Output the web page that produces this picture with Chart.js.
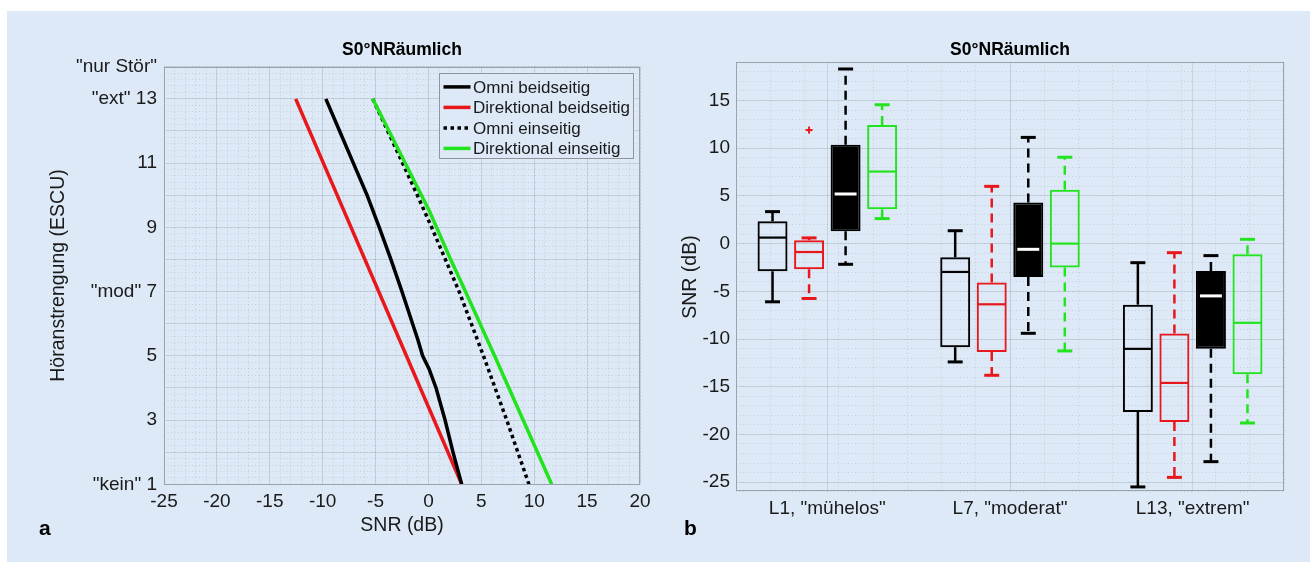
<!DOCTYPE html>
<html><head><meta charset="utf-8">
<script src="https://cdn.jsdelivr.net/npm/chart.js@4.4.0/dist/chart.umd.min.js"></script>
<style>
html,body{margin:0;padding:0;background:#fff;width:1310px;height:562px;overflow:hidden;}
#panel{position:absolute;left:7px;top:11px;width:1303px;height:551px;background:#dde9f6;}
.cw{position:absolute;top:0;height:562px;}
#w1{left:0;width:660px;} #w2{left:660px;width:650px;}
.lab{position:absolute;font:bold 21px "Liberation Sans",Arial,sans-serif;color:#000;line-height:normal;}
</style></head><body>
<div id="panel"></div>
<div class="cw" id="w1"><canvas id="c1" width="660" height="562"></canvas></div>
<div class="cw" id="w2"><canvas id="c2" width="650" height="562"></canvas></div>
<div class="lab" style="left:39px;top:516px">a</div>
<div class="lab" style="left:684px;top:516px">b</div>
<script>
// ================= DATA: panel a =================
const titleText = 'S0°NRäumlich';
const escuLabelValues = [1, 3, 5, 7, 9, 11, 13, 14];
const escuLabelTexts  = ['"kein" 1', '3', '5', '"mod" 7', '9', '11', '"ext" 13', '"nur Stör"'];

const omniBeidESCU = [13, 12, 11, 10, 9, 8, 7, 6, 5.5, 5, 4.6, 4, 3, 2, 1];
const omniBeidSNR  = [-9.7, -8.4, -7.1, -5.8, -4.65, -3.55, -2.5, -1.5, -1.0, -0.55, 0.05, 0.72, 1.57, 2.32, 3.14];
const dirBeidESCU  = [13, 1];
const dirBeidSNR   = [-12.55, 3.15];
const omniEinESCU  = [13, 12, 11, 10, 9, 8, 7, 6, 5, 4, 3, 2, 1];
const omniEinSNR   = [-5.27, -3.85, -2.45, -1.05, 0.3, 1.6, 2.9, 4.05, 5.2, 6.3, 7.4, 8.45, 9.5];
const dirEinESCU   = [13, 11, 9.5, 8, 7, 5, 3, 1];
const dirEinSNR    = [-5.27, -2.2, 0.1, 2.1, 3.5, 6.25, 8.95, 11.65];

// ================= DATA: panel b =================
const categories = ['L1, "mühelos"', 'L7, "moderat"', 'L13, "extrem"'];
const snrTicksB = [-25, -20, -15, -10, -5, 0, 5, 10, 15];

const omniBeidLo  = [-6.1, -12.4, -25.5];
const omniBeidQ1  = [-2.9, -10.85, -17.65];
const omniBeidMed = [0.63, -2.97, -11.03];
const omniBeidQ3  = [2.33, -1.43, -6.4];
const omniBeidHi  = [3.35, 1.35, -2.0];
const omniBeidOut = [[], [], []];

const dirBeidLo  = [-5.75, -13.8, -24.5];
const dirBeidQ1  = [-2.7, -11.35, -18.7];
const dirBeidMed = [-0.88, -6.36, -14.6];
const dirBeidQ3  = [0.35, -4.08, -9.42];
const dirBeidHi  = [0.6, 6.0, -0.95];
const dirBeidOut = [[11.9], [], []];

const omniEinLo  = [-2.17, -9.4, -22.85];
const omniEinQ1  = [1.3, -3.5, -11.03];
const omniEinMed = [5.2, -0.6, -5.48];
const omniEinQ3  = [10.37, 4.3, -2.87];
const omniEinHi  = [18.3, 11.13, -1.26];
const omniEinOut = [[], [], []];

const dirEinLo  = [2.62, -11.25, -18.8];
const dirEinQ1  = [3.6, -2.5, -13.7];
const dirEinMed = [7.55, 0.0, -8.3];
const dirEinQ3  = [12.42, 5.65, -1.12];
const dirEinHi  = [14.55, 9.05, 0.45];
const dirEinOut = [[], [], []];

// ================= styling =================
const FONT = '"Liberation Sans", Arial, Helvetica, sans-serif';
const RED = '#e8171b', GREEN = '#22e41e', BLACK = '#000000';
const BG = '#dde9f6';
const MAJOR = 'rgba(95,105,115,0.17)';
const MINOR = 'rgba(95,105,115,0.20)';
const TXT = '#1a1a1a';
const TICK_SIZE = 19, LABEL_SIZE = 19.5;

const pts = (xs, ys) => xs.map((x, i) => ({x: x, y: ys[i]}));

const frame = {
  id: 'frame',
  afterDatasetsDraw(chart) {
    const {ctx, chartArea: a} = chart;
    ctx.save();
    ctx.strokeStyle = '#9aa2aa';
    ctx.lineWidth = 1;
    ctx.strokeRect(Math.round(a.left) + 0.5, Math.round(a.top) + 0.5,
                   Math.round(a.right - a.left) - 1, Math.round(a.bottom - a.top) - 1);
    ctx.restore();
  }
};

const insideLegend = {
  id: 'insideLegend',
  afterDraw(chart) {
    const {ctx, chartArea: a} = chart;
    const w = 194, h = 85;
    const L = a.right - 7 - w, T = a.top + 6.6;
    ctx.save();
    ctx.fillStyle = BG;
    ctx.fillRect(L, T, w, h);
    ctx.strokeStyle = '#8e959c';
    ctx.lineWidth = 1;
    ctx.strokeRect(Math.round(L) + 0.5, Math.round(T) + 0.5, w, h);
    chart.data.datasets.forEach((ds, i) => {
      const yy = T + 13.6 + i * 20.5;
      ctx.beginPath();
      ctx.setLineDash(ds.borderDash || []);
      ctx.strokeStyle = ds.borderColor;
      ctx.lineWidth = ds.borderWidth;
      ctx.lineCap = 'butt';
      ctx.moveTo(L + 4.5, yy);
      ctx.lineTo(L + 31.5, yy);
      ctx.stroke();
      ctx.setLineDash([]);
      ctx.fillStyle = TXT;
      ctx.font = '17px ' + FONT;
      ctx.textBaseline = 'middle';
      ctx.textAlign = 'left';
      ctx.fillText(ds.label, L + 34, yy + 1);
    });
    ctx.restore();
  }
};

// ================= Chart a =================
new Chart(document.getElementById('c1'), {
  type: 'line',
  data: {
    datasets: [
      {label: 'Omni beidseitig', data: pts(omniBeidSNR, omniBeidESCU), borderColor: BLACK, borderWidth: 3.5, order: 0},
      {label: 'Direktional beidseitig', data: pts(dirBeidSNR, dirBeidESCU), borderColor: RED, borderWidth: 3.5, order: 1},
      {label: 'Omni einseitig', data: pts(omniEinSNR, omniEinESCU), borderColor: BLACK, borderWidth: 3.5, borderDash: [3.5, 3.5], order: 1},
      {label: 'Direktional einseitig', data: pts(dirEinSNR, dirEinESCU), borderColor: GREEN, borderWidth: 3.5, order: 0}
    ]
  },
  options: {
    responsive: false, animation: false,
    elements: {point: {radius: 0}, line: {tension: 0, fill: false, borderCapStyle: 'butt'}},
    layout: {padding: {left: 40, right: 20, top: 30, bottom: 20}},
    plugins: {
      legend: {display: false}, tooltip: {enabled: false},
      title: {display: true, text: titleText, fullSize: false, color: '#000',
              font: {family: FONT, size: 17.5, weight: 'bold', lineHeight: 1.2},
              padding: {top: 9.5, bottom: 6.2}}
    },
    scales: {
      x: {type: 'linear', position: 'bottom', min: -25, max: 20,
          ticks: {stepSize: 5, color: TXT, padding: 6.3, font: {family: FONT, size: TICK_SIZE, lineHeight: 1.2}},
          grid: {color: MAJOR, drawTicks: false}, border: {display: false},
          title: {display: true, text: 'SNR (dB)', color: TXT, font: {family: FONT, size: LABEL_SIZE, lineHeight: 1.2}, padding: {top: 0, bottom: 4.3}},
          afterFit: s => { s.height = 57.7; }},
      xMinor: {type: 'linear', position: 'bottom', min: -25, max: 20,
          ticks: {display: false, stepSize: 1}, grid: {color: MINOR, drawTicks: false},
          border: {display: false, dash: [1, 2.5]}, afterFit: s => { s.height = 0; }},
      y: {type: 'linear', position: 'left', min: 1, max: 14,
          ticks: {stepSize: 1, autoSkip: false, color: TXT, padding: 7, font: {family: FONT, size: TICK_SIZE},
                  callback: v => { const k = escuLabelValues.indexOf(v); return k >= 0 ? escuLabelTexts[k] : ''; }},
          grid: {color: MAJOR, drawTicks: false}, border: {display: false},
          title: {display: true, text: 'Höranstrengung (ESCU)', color: TXT, font: {family: FONT, size: LABEL_SIZE, lineHeight: 1.2}, padding: {top: 6.8, bottom: 0}},
          afterFit: s => { s.width = 124; }},
      yMinor: {type: 'linear', position: 'left', min: 1, max: 14,
          ticks: {display: false, stepSize: 0.2}, grid: {color: MINOR, drawTicks: false},
          border: {display: false, dash: [1, 2.5]}, afterFit: s => { s.width = 0; }}
    }
  },
  plugins: [frame, insideLegend]
});

// ================= Chart b =================
const boxSeries = [
  {label: 'Omni beidseitig', color: BLACK, fill: false, dashed: false, lo: omniBeidLo, q1: omniBeidQ1, med: omniBeidMed, q3: omniBeidQ3, hi: omniBeidHi, out: omniBeidOut},
  {label: 'Direktional beidseitig', color: RED, fill: false, dashed: true, lo: dirBeidLo, q1: dirBeidQ1, med: dirBeidMed, q3: dirBeidQ3, hi: dirBeidHi, out: dirBeidOut},
  {label: 'Omni einseitig', color: BLACK, fill: true, dashed: true, lo: omniEinLo, q1: omniEinQ1, med: omniEinMed, q3: omniEinQ3, hi: omniEinHi, out: omniEinOut},
  {label: 'Direktional einseitig', color: GREEN, fill: false, dashed: true, lo: dirEinLo, q1: dirEinQ1, med: dirEinMed, q3: dirEinQ3, hi: dirEinHi, out: dirEinOut}
];

const whiskers = {
  id: 'whiskers',
  afterDatasetsDraw(chart) {
    const ctx = chart.ctx, ys = chart.scales.y;
    const seg = (x1, y1, x2, y2) => { ctx.beginPath(); ctx.moveTo(x1, y1); ctx.lineTo(x2, y2); ctx.stroke(); };
    boxSeries.forEach((s, i) => {
      const meta = chart.getDatasetMeta(i);
      meta.data.forEach((el, j) => {
        const x = el.x, w = el.width;
        ctx.save();
        ctx.lineCap = 'butt';
        ctx.strokeStyle = s.color;
        ctx.lineWidth = 2.5;
        ctx.setLineDash(s.dashed ? [9, 6] : []);
        seg(x, ys.getPixelForValue(s.q3[j]), x, ys.getPixelForValue(s.hi[j]));
        seg(x, ys.getPixelForValue(s.q1[j]), x, ys.getPixelForValue(s.lo[j]));
        ctx.setLineDash([]);
        ctx.lineWidth = 3;
        const cw = w * 0.5;
        seg(x - cw / 2, ys.getPixelForValue(s.hi[j]), x + cw / 2, ys.getPixelForValue(s.hi[j]));
        seg(x - cw / 2, ys.getPixelForValue(s.lo[j]), x + cw / 2, ys.getPixelForValue(s.lo[j]));
        const my = ys.getPixelForValue(s.med[j]);
        if (s.fill) { ctx.strokeStyle = '#ffffff'; ctx.lineWidth = 3; seg(x - w / 2 + 4, my, x + w / 2 - 4, my); }
        else { ctx.lineWidth = 2.2; seg(x - w / 2 + 1, my, x + w / 2 - 1, my); }
        ctx.strokeStyle = s.color; ctx.lineWidth = 2;
        s.out[j].forEach(v => {
          const oy = ys.getPixelForValue(v);
          seg(x - 3.5, oy, x + 3.5, oy); seg(x, oy - 3.5, x, oy + 3.5);
        });
        ctx.restore();
      });
    });
  }
};

new Chart(document.getElementById('c2'), {
  type: 'bar',
  data: {
    labels: categories,
    datasets: boxSeries.map(s => ({
      label: s.label,
      data: s.q1.map((v, i) => [v, s.q3[i]]),
      backgroundColor: s.fill ? s.color : 'rgba(0,0,0,0)',
      borderColor: s.color,
      borderWidth: 2,
      borderSkipped: false,
      categoryPercentage: 0.8,
      barPercentage: 0.82
    }))
  },
  options: {
    responsive: false, animation: false,
    layout: {padding: {left: 10, right: 26, top: 30, bottom: 10}},
    plugins: {
      legend: {display: false}, tooltip: {enabled: false},
      title: {display: true, text: titleText, fullSize: false, color: '#000',
              font: {family: FONT, size: 17.5, weight: 'bold', lineHeight: 1.2},
              padding: {top: 9.5, bottom: 1.8}}
    },
    scales: {
      x: {type: 'category', position: 'bottom', offset: true,
          ticks: {color: TXT, padding: 5.5, font: {family: FONT, size: TICK_SIZE, lineHeight: 1.2}},
          grid: {color: MAJOR, drawTicks: false, offset: false}, border: {display: false},
          afterFit: s => { s.height = 60.3; }},
      xMinor: {type: 'linear', position: 'bottom', min: 0.5, max: 3.5,
          ticks: {display: false, stepSize: 0.2}, grid: {color: MINOR, drawTicks: false},
          border: {display: false, dash: [1, 2.5]}, afterFit: s => { s.height = 0; }},
      y: {type: 'linear', position: 'left', min: -26, max: 19,
          afterBuildTicks: s => { s.ticks = snrTicksB.map(v => ({value: v})); },
          ticks: {color: TXT, padding: 6, font: {family: FONT, size: TICK_SIZE}},
          grid: {color: MAJOR, drawTicks: false}, border: {display: false},
          title: {display: true, text: 'SNR (dB)', color: TXT, font: {family: FONT, size: LABEL_SIZE, lineHeight: 1.2}, padding: {top: 9.3, bottom: 0}},
          afterFit: s => { s.width = 66; }},
      yMinor: {type: 'linear', position: 'left', min: -26, max: 19,
          ticks: {display: false, stepSize: 1}, grid: {color: MINOR, drawTicks: false},
          border: {display: false, dash: [1, 2.5]}, afterFit: s => { s.width = 0; }}
    }
  },
  plugins: [whiskers, frame]
});
</script>
</body></html>
